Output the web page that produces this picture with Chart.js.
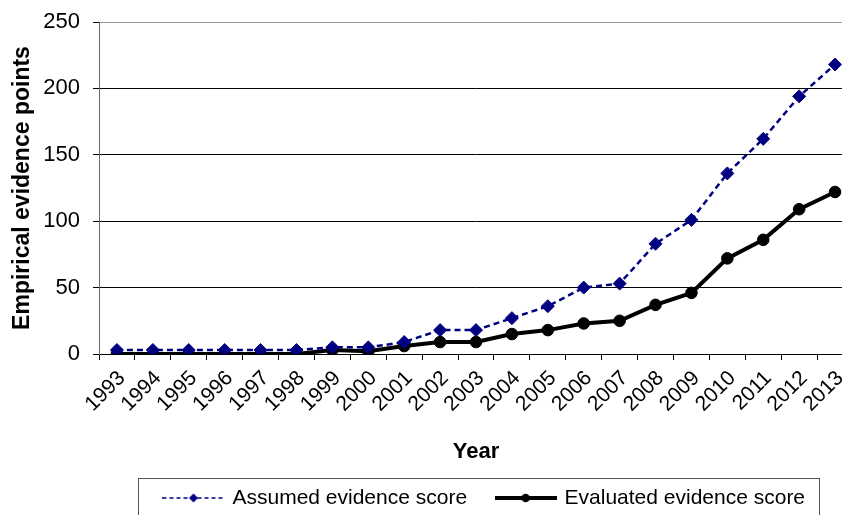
<!DOCTYPE html>
<html>
<head>
<meta charset="utf-8">
<script src="https://cdn.jsdelivr.net/npm/chart.js@4/dist/chart.umd.min.js"></script>
<style>
  html, body { margin: 0; padding: 0; background: #fff; overflow: hidden; }
  #wrap { width: 842px; height: 515px; overflow: hidden; position: relative; }
  canvas { display: block; }
</style>
</head>
<body>
<div id="wrap"><canvas id="c" width="855" height="520"></canvas></div>
<script>
const years = ['1993','1994','1995','1996','1997','1998','1999','2000','2001','2002','2003','2004','2005','2006','2007','2008','2009','2010','2011','2012','2013'];
const assumedScores   = [3, 3, 3, 3, 3, 3, 5, 5, 9, 18, 18, 27, 36, 50, 53, 83, 101, 136, 162, 194, 218];
const evaluatedScores = [0, 0, 0, 0, 0, 0, 3, 2, 6, 9, 9, 15, 18, 23, 25, 37, 46, 72, 86, 109, 122];
const seriesNames = ['Assumed evidence score', 'Evaluated evidence score'];
const yMin = 0, yMax = 250, yStep = 50;

const FONT = '"Liberation Sans", Arial, sans-serif';
const NAVY = '#000080';

function legendIcon(kind) {
  const c = document.createElement('canvas');
  c.width = 62; c.height = 14;
  const g = c.getContext('2d');
  const cy = 7;
  if (kind === 0) {
    g.strokeStyle = NAVY; g.lineWidth = 1.5; g.setLineDash([4, 3]);
    g.beginPath(); g.moveTo(0, cy); g.lineTo(62, cy); g.stroke();
    g.setLineDash([]);
    g.fillStyle = NAVY;
    g.beginPath(); g.moveTo(31, cy - 4.5); g.lineTo(35.5, cy); g.lineTo(31, cy + 4.5); g.lineTo(26.5, cy); g.closePath(); g.fill();
  } else {
    g.strokeStyle = '#000'; g.lineWidth = 4;
    g.beginPath(); g.moveTo(0, cy); g.lineTo(62, cy); g.stroke();
    g.fillStyle = '#000';
    g.beginPath(); g.arc(31, cy, 4.3, 0, Math.PI * 2); g.fill();
  }
  return c;
}
const icons = [legendIcon(0), legendIcon(1)];

const legendFrame = {
  id: 'legendFrame',
  afterLayout(chart) {
    const lg = chart.legend;
    if (lg) { lg.left += 9; lg.right += 9; }
  },
  afterDraw(chart) {
    const lg = chart.legend;
    if (!lg || !lg.legendHitBoxes || !lg.legendHitBoxes.length) return;
    const hb = lg.legendHitBoxes;
    const first = hb[0], last = hb[hb.length - 1];
    const ctx = chart.ctx;
    const left = Math.round(first.left - 27) + 0.5;
    const right = Math.round(last.left + last.width + 14) + 0.5;
    const top = Math.round(lg.top + 20) + 0.5;
    ctx.save();
    ctx.strokeStyle = '#555';
    ctx.lineWidth = 1;
    ctx.strokeRect(left, top, right - left, chart.height + 20 - top);
    ctx.restore();
  }
};

new Chart(document.getElementById('c'), {
  type: 'line',
  data: {
    labels: years,
    datasets: [
      {
        label: seriesNames[0],
        data: assumedScores,
        borderColor: NAVY,
        backgroundColor: NAVY,
        borderWidth: 2.5,
        borderDash: [6, 4],
        pointStyle: 'rectRot',
        pointRadius: 6.5,
        pointBorderWidth: 1,
        pointBorderColor: NAVY,
        pointBackgroundColor: NAVY,
        tension: 0,
        fill: false
      },
      {
        label: seriesNames[1],
        data: evaluatedScores,
        borderColor: '#000',
        backgroundColor: '#000',
        borderWidth: 4,
        pointStyle: 'circle',
        pointRadius: 5.8,
        pointBorderWidth: 1,
        pointBorderColor: '#000',
        pointBackgroundColor: '#000',
        tension: 0,
        fill: false
      }
    ]
  },
  options: {
    responsive: false,
    animation: false,
    layout: { autoPadding: false, padding: { left: 0, right: 2, top: 22, bottom: 1.5 } },
    plugins: {
      tooltip: { enabled: false },
      legend: {
        position: 'bottom',
        fullSize: false,
        labels: {
          usePointStyle: true,
          pointStyleWidth: 57,
          padding: 30,
          color: '#000',
          font: { family: FONT, size: 21 },
          generateLabels(chart) {
            const items = Chart.defaults.plugins.legend.labels.generateLabels(chart);
            items.forEach((it, i) => { it.pointStyle = icons[i]; });
            return items;
          }
        }
      }
    },
    scales: {
      x: {
        type: 'category',
        offset: true,
        grid: { display: true, drawOnChartArea: false, drawTicks: true, tickLength: 6, color: '#000', offset: true },
        border: { display: true, color: '#000', width: 1 },
        ticks: {
          color: '#000',
          font: { family: FONT, size: 21 },
          maxRotation: 45, minRotation: 45,
          autoSkip: false,
          padding: 6,
          labelOffset: 5
        },
        title: {
          display: true,
          text: 'Year',
          color: '#000',
          font: { family: FONT, size: 22, weight: 'bold' },
          padding: { top: 0, bottom: -8 }
        },
        afterFit(scale) { scale.height = 103.5; scale.paddingLeft = 0; scale.paddingRight = 0; }
      },
      y: {
        min: yMin, max: yMax,
        ticks: {
          stepSize: yStep,
          color: '#000',
          font: { family: FONT, size: 22 },
          padding: 13
        },
        grid: {
          color: (c) => (c.tick && c.tick.value === yMax ? '#999' : '#000'),
          tickColor: '#000',
          lineWidth: 1,
          tickLength: 6,
          drawTicks: true
        },
        border: { display: true, color: '#666', width: 1 },
        title: {
          display: true,
          text: 'Empirical evidence points',
          color: '#000',
          font: { family: FONT, size: 23, weight: 'bold' },
          padding: { top: 9, bottom: 0 }
        },
        afterFit(scale) { scale.width = 99; scale.paddingTop = 13; scale.paddingBottom = 13; }
      }
    }
  },
  plugins: [legendFrame]
});
</script>
</body>
</html>
